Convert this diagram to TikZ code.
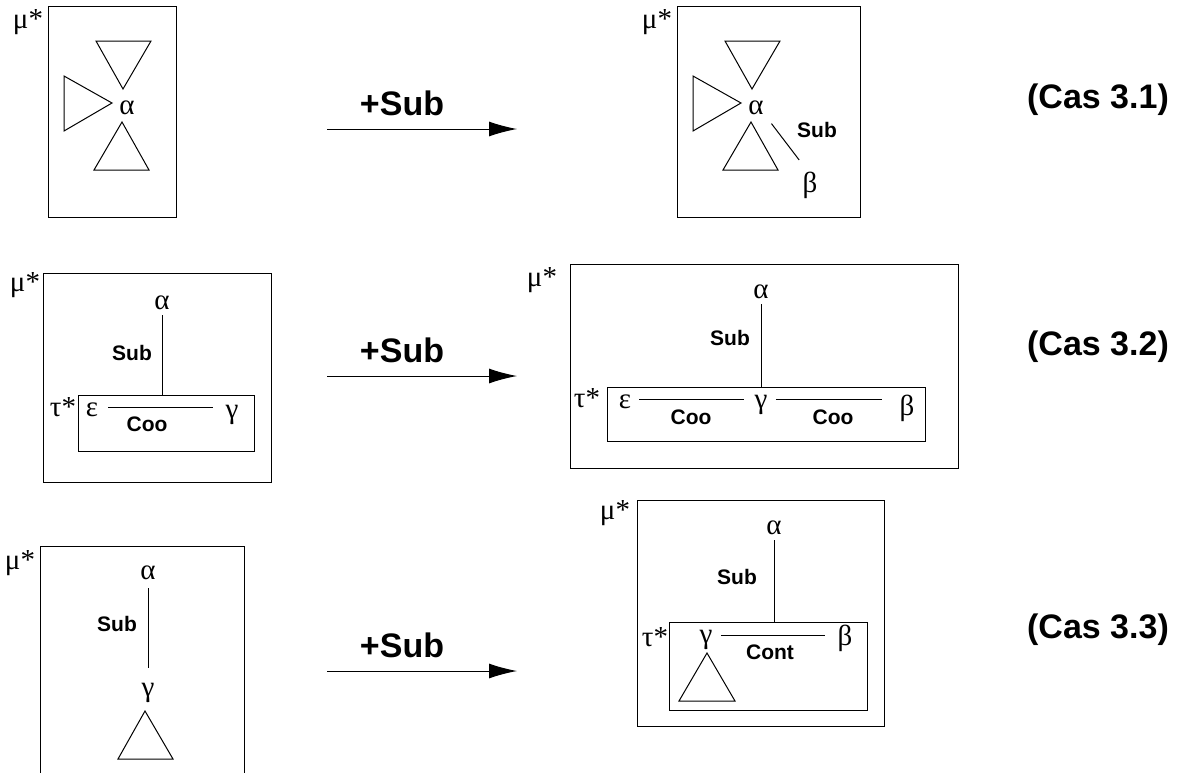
\documentclass[tikz,border=0pt]{standalone}
\usepackage{fontspec}
\setmainfont{Liberation Serif}
\newfontfamily\labelfont{Liberation Sans}
\usetikzlibrary{arrows.meta,calc}

\begin{document}
\begin{tikzpicture}[x=0.5pt,y=-0.5pt,
    greek/.style={font=\fontsize{14.5}{17}\selectfont, inner sep=2.5pt},
    rel/.style={font=\labelfont\bfseries\fontsize{10.5}{12}\selectfont, inner sep=0pt},
    big/.style={font=\labelfont\bfseries\fontsize{17}{20}\selectfont, inner sep=0pt},
    box/.style={draw, line width=0.5pt},
    edge/.style={line width=0.5pt}]
    \useasboundingbox (0,0) rectangle (1189,772);

    % ligne 1
    \foreach \dx in {0,629} {
        \draw[edge] (96+\dx,41) -- (151+\dx,41) -- (123+\dx,89) -- cycle;
        \draw[edge] (64+\dx,76) -- (64+\dx,131) -- (112+\dx,103) -- cycle;
        \draw[edge] (122+\dx,122) -- (149+\dx,170) -- (94+\dx,170) -- cycle;
    }
    \draw[box] (48,6) rectangle (176,217);
    \node[greek] (mu1) at (28,22) {μ*};
    \node[greek] (a1) at (127,108) {α};

    \draw[box] (677,6) rectangle (860,217);
    \node[greek] (mu2) at (657,22) {μ*};
    \node[greek] (a2) at (756,108) {α};
    \node[greek] (b2) at (810,185) {β};
    \node[rel] (sub2) at (817,130) {Sub};
    \draw[edge, shorten <=2pt, shorten >=4pt] (a2.south east) -- ([xshift=-3pt]b2.north);

    % ligne 2
    \draw[box] (43,273) rectangle (271,482);
    \node[greek] (mu3) at (25,285) {μ*};
    \node[greek] (a3) at (162,303) {α};
    \node[rel] (sub3) at (132,353) {Sub};
    \node[box, minimum width=88pt, minimum height=28pt] (t3) at (166,423) {};
    \node[greek] (tau3) at (63,407) {τ*};
    \node[greek] (e3) at (92,410) {ε};
    \node[greek] (g3) at (232,415) {γ};
    \node[rel] (coo3) at (147,424) {Coo};
    \draw[edge] (a3) -- (a3 |- t3.north);
    \draw[edge, shorten <=2.5pt, shorten >=3.5pt] ($(e3.east)+(0,-3)$) -- ($(g3.west |- e3.east)+(0,-3)$);

    \draw[box] (570,264) rectangle (958,468);
    \node[greek] (mu4) at (542,280) {μ*};
    \node[greek] (a4) at (761,292) {α};
    \node[rel] (sub4) at (730,338) {Sub};
    \node[box, minimum width=159pt, minimum height=27pt] (t4) at (766,414) {};
    \node[greek] (tau4) at (587,398) {τ*};
    \node[greek] (e4) at (625,402) {ε};
    \node[greek] (g4) at (761,405) {γ};
    \node[greek] (b4) at (907,408) {β};
    \node[rel] (coo4a) at (691,417) {Coo};
    \node[rel] (coo4b) at (833,417) {Coo};
    \draw[edge] (a4) -- (a4 |- t4.north);
    \draw[edge, shorten <=1.5pt, shorten >=2.5pt] ($(e4.east)+(0,-3)$) -- ($(g4.west |- e4.east)+(0,-3)$);
    \draw[edge, shorten <=1.5pt, shorten >=6pt] ($(g4.east |- e4.east)+(0,-3)$) -- ($(b4.west |- e4.east)+(0,-3)$);

    % ligne 3
    \draw[box] (40,780) -- (40,546) -- (244,546) -- (244,780);
    \node[greek] (mu5) at (20,563) {μ*};
    \node[greek] (a5) at (148,573) {α};
    \node[rel] (sub5) at (117,624) {Sub};
    \node[greek] (g5) at (148,693) {γ};
    \draw[edge, shorten <=1.5pt, shorten >=5pt] (a5) -- (g5);
    \draw[edge] (145,711) -- (173,759) -- (118,759) -- cycle;

    \draw[box] (637,500) rectangle (884,726);
    \node[greek] (mu6) at (615,513) {μ*};
    \node[greek] (a6) at (774,528) {α};
    \node[rel] (sub6) at (737,577) {Sub};
    \node[box, minimum width=99pt, minimum height=44pt] (t6) at (768,666) {};
    \node[greek] (tau6) at (655,637) {τ*};
    \node[greek] (g6) at (706,640) {γ};
    \node[greek] (b6) at (845,638) {β};
    \node[rel] (cont6) at (770,652) {Cont};
    \draw[edge] (a6) -- (a6 |- t6.north);
    \draw[edge, shorten <=1.5pt, shorten >=3.5pt] ($(g6.east |- b6.east)+(0,-3)$) -- ($(b6.west)+(0,-3)$);
    \draw[edge] (707,653) -- (735,701) -- (679,701) -- cycle;

    % fleches
    \foreach \y/\ly [count=\i] in {129/103, 376/350, 671/645} {
        \coordinate (p\i) at (327,\y);
        \coordinate (q\i) at (517,\y);
        \draw[edge, -{Latex[length=14pt,width=7.5pt]}] (p\i) -- (q\i);
        \node[big] (plus\i) at (402,\ly) {+Sub};
    }

    \node[big] (cas1) at (1098,100) {(Cas 3.1)};
    \node[big] (cas2) at (1098,347) {(Cas 3.2)};
    \node[big] (cas3) at (1098,630) {(Cas 3.3)};
\end{tikzpicture}
\end{document}
